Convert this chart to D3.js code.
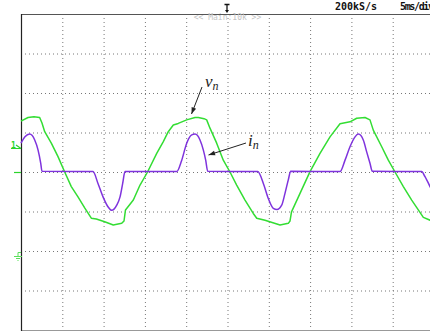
<!DOCTYPE html>
<html>
<head>
  <meta charset="UTF-8">
  <script src="https://d3js.org/d3.v7.min.js"></script>
  <style>
    body { margin: 0; background: #fff; }
    .hdr { font-family: 'DejaVu Sans Mono', monospace; font-size: 10px; font-weight: bold; fill: #111; }
    .zoom { font-family: 'DejaVu Sans Mono', monospace; font-size: 8px; fill: #c4c4c4; }
    .lbl { font-family: 'Liberation Serif', serif; font-style: italic; fill: #222; }
  </style>
</head>
<body>
  <div id="chart"></div>
  <script>
    // time axis in ms (5 ms/div), amplitude in divisions
    const timeTicks = [0, 5, 10, 15, 20, 25, 30, 35, 40, 45, 50];
    const ampTicks = [-4, -3, -2, -1, 0, 1, 2, 3, 4];

    // v_n (green trace)
    const vT = [0, 0.85, 1.57, 2.26, 2.54, 2.87, 3.67, 4.48, 5.29, 6.09, 6.9, 7.71, 8.51, 9.12, 10.13, 11.17, 12.19, 12.47,
      12.65, 13.6, 14.41, 15.32, 16.43, 17.23, 17.83, 18.44, 19.04, 20.06, 21.07, 21.47, 22.16, 22.48, 22.88, 23.69, 24.49,
      25.3, 26.11, 27.12, 28.12, 28.54, 29.54, 31.36, 32.36, 32.57, 32.75, 33.78, 34.99, 36.2, 37.41, 38.62, 39.83, 40.64,
      41.65, 42.25, 42.65, 43.67, 44.47, 45.28, 46.29, 47.3, 48.1, 48.71, 49.52, 50];
    const vV = [1.29, 1.38, 1.4, 1.38, 1.24, 1.02, 0.73, 0.39, 0, -0.37, -0.63, -0.91, -1.17, -1.19, -1.26, -1.34, -1.3, -1.24,
      -0.96, -0.71, -0.33, 0, 0.47, 0.77, 1.02, 1.19, 1.23, 1.32, 1.38, 1.38, 1.35, 1.32, 1.11, 0.73, 0.3,
      0, -0.33, -0.71, -1.05, -1.17, -1.22, -1.34, -1.3, -1.24, -1.01, -0.54, 0.01, 0.47, 0.89, 1.22, 1.27, 1.36,
      1.38, 1.32, 1.06, 0.64, 0.3, 0, -0.37, -0.71, -0.96, -1.15, -1.22, -1.27];

    // i_n (purple trace)
    const iT = [0, 0.48, 1.05, 1.66, 2.06, 2.39, 2.54, 8.72, 9.32, 9.93, 10.53, 10.98, 11.59, 11.99, 12.31, 12.59,
      18.85, 19.46, 20.06, 20.67, 21.07, 21.67, 22.07, 22.36, 22.6, 28.66, 29.34, 29.94, 30.55, 30.99, 31.56, 31.96,
      32.36, 32.65, 38.62, 39.23, 39.83, 40.44, 40.84, 41.44, 41.85, 42.25, 42.53, 48.51, 48.91, 49.52, 50];
    const iV = [0.73, 0.89, 0.96, 0.81, 0.56, 0.22, 0.02, 0.01, -0.29, -0.63, -0.88, -0.97, -0.84, -0.63, -0.29, 0.01,
      0.01, 0.3, 0.73, 0.94, 0.96, 0.81, 0.56, 0.3, 0.02, 0.01, -0.29, -0.67, -0.92, -0.95, -0.84, -0.54,
      -0.2, 0.02, 0.01, 0.3, 0.64, 0.89, 0.96, 0.81, 0.51, 0.22, 0.02, 0.01, -0.12, -0.37, -0.58];

    const W = 430, H = 331;
    const svg = d3.select('#chart').append('svg').attr('width', W).attr('height', H);

    const x = d3.scaleLinear().domain([0, 50]).range([21, 434]);
    const y = d3.scaleLinear().domain([-4, 4]).range([330, 14]);

    // dotted grid
    const grid = svg.append('g');
    grid.selectAll('.gv').data(timeTicks.slice(1, -1)).enter().append('line')
      .attr('x1', d => x(d) + 0.5).attr('x2', d => x(d) + 0.5)
      .attr('y1', y(4)).attr('y2', y(-4))
      .attr('stroke', '#777').attr('stroke-width', 1).attr('stroke-dasharray', '1,3');
    grid.selectAll('.gh').data(ampTicks.slice(1, -1)).enter().append('line')
      .attr('x1', x(0)).attr('x2', x(50))
      .attr('y1', d => y(d) + 0.5).attr('y2', d => y(d) + 0.5)
      .attr('stroke', '#777').attr('stroke-width', 1).attr('stroke-dasharray', '1,3');

    // frame
    svg.append('line').attr('x1', x(0)).attr('x2', W).attr('y1', y(4) + 0.5).attr('y2', y(4) + 0.5)
      .attr('stroke', '#555').attr('stroke-width', 1);
    svg.append('line').attr('x1', x(0)).attr('x2', W).attr('y1', y(-4) + 0.5).attr('y2', y(-4) + 0.5)
      .attr('stroke', '#999').attr('stroke-width', 1);
    svg.append('line').attr('x1', x(0) + 0.5).attr('x2', x(0) + 0.5).attr('y1', y(4)).attr('y2', y(-4) + 1)
      .attr('stroke', '#222').attr('stroke-width', 1.2);

    // header texts
    svg.append('text').attr('class', 'hdr').attr('x', 335).attr('y', 10).text('200kS/s');
    svg.append('text').attr('class', 'hdr').attr('x', 400).attr('y', 10).attr('textLength', 34).text('5ms/div');
    svg.append('text').attr('class', 'zoom').attr('x', x(25)).attr('y', 20).attr('text-anchor', 'middle').text('<< Main:10k >>');

    // trigger marker
    svg.append('path').attr('d', 'M224.5,4.5 H229.5 M227,4.5 V11')
      .attr('stroke', '#111').attr('stroke-width', 1.3).attr('fill', 'none');
    svg.append('path').attr('d', 'M225,10 L229,10 L227,13 Z').attr('fill', '#111');

    // channel markers (green)
    const g1 = '#2bd42b';
    svg.append('text').attr('x', 11).attr('y', 148).attr('fill', g1)
      .attr('font-family', 'DejaVu Sans Mono').attr('font-size', 8).attr('font-weight', 'bold').text('1');
    svg.append('path').attr('d', 'M11,148.5 H21 M16,145 L21,148.5').attr('stroke', g1).attr('stroke-width', 1.2).attr('fill', 'none');
    svg.append('line').attr('x1', 14).attr('x2', 21).attr('y1', y(0) + 0.5).attr('y2', y(0) + 0.5)
      .attr('stroke', g1).attr('stroke-width', 1.2);
    svg.append('path').attr('d', 'M21,252.5 H18 V256 M14,256.5 H22 M16,258.5 H20 M17.5,260.5 H18.5')
      .attr('stroke', '#5be05b').attr('stroke-width', 1).attr('fill', 'none');

    // traces
    const line = d3.line().x(d => x(d[0])).y(d => y(d[1]));
    svg.append('path').datum(vT.map((t, k) => [t, vV[k]]))
      .attr('d', line).attr('fill', 'none').attr('stroke', '#33dd33').attr('stroke-width', 1.5)
      .attr('stroke-linejoin', 'round');
    svg.append('path').datum(iT.map((t, k) => [t, iV[k]]))
      .attr('d', line.curve(d3.curveMonotoneX)).attr('fill', 'none').attr('stroke', '#7f33dd').attr('stroke-width', 1.5)
      .attr('stroke-linejoin', 'round');

    // annotations
    const arrow = (x1, y1, x2, y2) => {
      svg.append('line').attr('x1', x1).attr('y1', y1).attr('x2', x2).attr('y2', y2)
        .attr('stroke', '#222').attr('stroke-width', 1);
      const a = Math.atan2(y2 - y1, x2 - x1), L = 7, s = 0.35;
      const p = [[x2, y2],
        [x2 - L * Math.cos(a - s), y2 - L * Math.sin(a - s)],
        [x2 - L * Math.cos(a + s), y2 - L * Math.sin(a + s)]];
      svg.append('path').attr('d', 'M' + p.join('L') + 'Z').attr('fill', '#222');
    };
    arrow(202, 87, 191.5, 114);
    arrow(246, 143, 208.5, 155);

    const vl = svg.append('text').attr('class', 'lbl').attr('x', 205).attr('y', 87).attr('font-size', 17);
    vl.append('tspan').text('v');
    vl.append('tspan').attr('font-size', 12).attr('dy', 3).text('n');
    const il = svg.append('text').attr('class', 'lbl').attr('x', 248).attr('y', 146).attr('font-size', 17);
    il.append('tspan').text('i');
    il.append('tspan').attr('font-size', 12).attr('dy', 3).text('n');
  </script>
</body>
</html>
